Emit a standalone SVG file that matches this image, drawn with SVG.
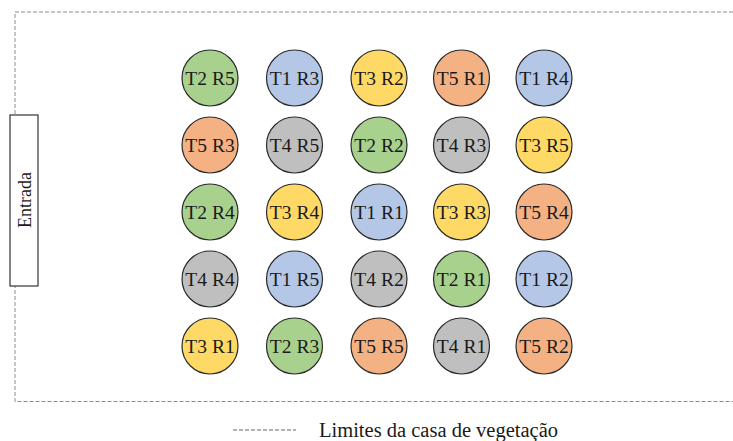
<svg xmlns="http://www.w3.org/2000/svg" width="733" height="441" viewBox="0 0 733 441">
<style>
.c{stroke:#2a2a2a;stroke-width:1.2}
.t1{fill:#B4C7E7}.t2{fill:#A9D18E}.t3{fill:#FFD966}.t4{fill:#BFBFBF}.t5{fill:#F4B183}
text{font-family:"Liberation Serif","Times New Roman",serif;fill:#1a1a1a}
.l{font-size:19.5px;text-anchor:middle}
.b{fill:none;stroke:#8c8c8c;stroke-width:1;stroke-dasharray:4 2}
</style>
<rect width="733" height="441" fill="#ffffff"/>
<path class="b" d="M733 12 H15 V401.5 H733"/>
<g id="entrada">
<rect x="10" y="115" width="28" height="171" fill="#ffffff" stroke="#333" stroke-width="1.2"/>
<text x="0" y="0" font-size="18" text-anchor="middle" transform="translate(30.5 200) rotate(-90)">Entrada</text>
</g>
<g id="connectors"></g>
<g id="n11"><circle class="c t2" cx="210" cy="78" r="28"/><text class="l" x="210" y="85">T2 R5</text></g>
<g id="n12"><circle class="c t1" cx="294.5" cy="78" r="28"/><text class="l" x="294.5" y="85">T1 R3</text></g>
<g id="n13"><circle class="c t3" cx="379" cy="78" r="28"/><text class="l" x="379" y="85">T3 R2</text></g>
<g id="n14"><circle class="c t5" cx="461.5" cy="78" r="28"/><text class="l" x="461.5" y="85">T5 R1</text></g>
<g id="n15"><circle class="c t1" cx="544" cy="78" r="28"/><text class="l" x="544" y="85">T1 R4</text></g>
<g id="n21"><circle class="c t5" cx="210" cy="145" r="28"/><text class="l" x="210" y="152">T5 R3</text></g>
<g id="n22"><circle class="c t4" cx="294.5" cy="145" r="28"/><text class="l" x="294.5" y="152">T4 R5</text></g>
<g id="n23"><circle class="c t2" cx="379" cy="145" r="28"/><text class="l" x="379" y="152">T2 R2</text></g>
<g id="n24"><circle class="c t4" cx="461.5" cy="145" r="28"/><text class="l" x="461.5" y="152">T4 R3</text></g>
<g id="n25"><circle class="c t3" cx="544" cy="145" r="28"/><text class="l" x="544" y="152">T3 R5</text></g>
<g id="n31"><circle class="c t2" cx="210" cy="212" r="28"/><text class="l" x="210" y="219">T2 R4</text></g>
<g id="n32"><circle class="c t3" cx="294.5" cy="212" r="28"/><text class="l" x="294.5" y="219">T3 R4</text></g>
<g id="n33"><circle class="c t1" cx="379" cy="212" r="28"/><text class="l" x="379" y="219">T1 R1</text></g>
<g id="n34"><circle class="c t3" cx="461.5" cy="212" r="28"/><text class="l" x="461.5" y="219">T3 R3</text></g>
<g id="n35"><circle class="c t5" cx="544" cy="212" r="28"/><text class="l" x="544" y="219">T5 R4</text></g>
<g id="n41"><circle class="c t4" cx="210" cy="279" r="28"/><text class="l" x="210" y="286">T4 R4</text></g>
<g id="n42"><circle class="c t1" cx="294.5" cy="279" r="28"/><text class="l" x="294.5" y="286">T1 R5</text></g>
<g id="n43"><circle class="c t4" cx="379" cy="279" r="28"/><text class="l" x="379" y="286">T4 R2</text></g>
<g id="n44"><circle class="c t2" cx="461.5" cy="279" r="28"/><text class="l" x="461.5" y="286">T2 R1</text></g>
<g id="n45"><circle class="c t1" cx="544" cy="279" r="28"/><text class="l" x="544" y="286">T1 R2</text></g>
<g id="n51"><circle class="c t3" cx="210" cy="346" r="28"/><text class="l" x="210" y="353">T3 R1</text></g>
<g id="n52"><circle class="c t2" cx="294.5" cy="346" r="28"/><text class="l" x="294.5" y="353">T2 R3</text></g>
<g id="n53"><circle class="c t5" cx="379" cy="346" r="28"/><text class="l" x="379" y="353">T5 R5</text></g>
<g id="n54"><circle class="c t4" cx="461.5" cy="346" r="28"/><text class="l" x="461.5" y="353">T4 R1</text></g>
<g id="n55"><circle class="c t5" cx="544" cy="346" r="28"/><text class="l" x="544" y="353">T5 R2</text></g>
<g id="legend">
<line x1="233" y1="430" x2="296" y2="430" stroke="#666" stroke-width="1" stroke-dasharray="4 2"/>
<text x="319" y="437" font-size="20.5">Limites da casa de vegetação</text>
</g>
</svg>
